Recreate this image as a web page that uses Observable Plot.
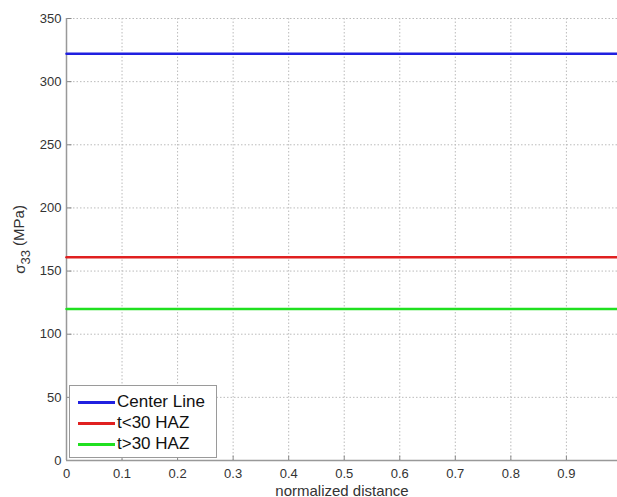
<!DOCTYPE html>
<html>
<head>
<meta charset="utf-8">
<script src="https://cdn.jsdelivr.net/npm/d3@7"></script>
<script src="https://cdn.jsdelivr.net/npm/@observablehq/plot@0.6"></script>
<style>
  html, body { margin: 0; padding: 0; background: #fff; }
  #wrap { position: relative; width: 617px; height: 497px; overflow: hidden; }
  #legend { position: absolute; left: 69px; top: 385px; width: 148px; height: 73px;
    border: 1px solid #9a9a9a; background: #fff; box-sizing: border-box;
    font-family: "Liberation Sans", Arial, sans-serif; font-size: 17px; color: #111; }
  .row { position: absolute; left: 0; height: 20px; display: flex; align-items: center; }
  .sw { width: 37px; height: 0; border-top: 3px solid; margin-left: 8px; margin-right: 2px; }
</style>
</head>
<body>
<div id="wrap"><div id="legend"></div></div>
<script>
const series = ["Center Line", "t<30 HAZ", "t>30 HAZ"];
const colors = ["#2020e0", "#e02020", "#20e020"];
const values = [322, 161, 120];
const xExtent = [0, 0.992];
const xTicks = [0, 0.1, 0.2, 0.3, 0.4, 0.5, 0.6, 0.7, 0.8, 0.9];
const yTicks = [0, 50, 100, 150, 200, 250, 300, 350];

const lines = series.flatMap((s, i) => xExtent.map(x => ({series: s, x, y: values[i]})));

const chart = Plot.plot({
  width: 617,
  height: 497,
  marginLeft: 66,
  marginRight: 0,
  marginTop: 18,
  marginBottom: 37,
  style: {fontFamily: "'Liberation Sans', Arial, sans-serif", fontSize: "13px", color: "#333", background: "#fff"},
  x: {domain: xExtent},
  y: {domain: [0, 350]},
  marks: [
    Plot.ruleX(xTicks.slice(1), {stroke: "#bbb", strokeDasharray: "1.5,2", strokeWidth: 1, strokeOpacity: 1}),
    Plot.ruleY(yTicks.slice(1), {stroke: "#bbb", strokeDasharray: "1.5,2", strokeWidth: 1, strokeOpacity: 1}),
    Plot.ruleX(xTicks, {y1: 0, y2: 3.5, stroke: "#888"}),
    Plot.ruleY(yTicks, {x1: 0, x2: 0.01, stroke: "#888"}),
    Plot.ruleX([0], {stroke: "#999", strokeWidth: 1.5}),
    Plot.ruleY([0], {stroke: "#999", strokeWidth: 1.5}),
    Plot.axisX({ticks: xTicks, tickSize: 0, tickPadding: 8, tickFormat: d => d === 0 ? "0" : d3.format(".1f")(d),
      label: "normalized distance", labelAnchor: "center", labelArrow: "none", labelOffset: 35, fontSize: 13}),
    Plot.axisY({ticks: yTicks, tickSize: 0, tickPadding: 5, tickFormat: d => String(d),
      label: "σ33 (MPa)", labelAnchor: "center", labelArrow: "none", labelOffset: 52, fontSize: 13}),
    Plot.line(lines, {x: "x", y: "y", z: "series", stroke: d => colors[series.indexOf(d.series)], strokeWidth: 2.5})
  ]
});

// axis label sizes and subscript in y label
d3.select(chart).selectAll("text").each(function() {
  const t = d3.select(this);
  if (t.text() === "normalized distance") {
    t.attr("font-size", "15px");
  }
  if (t.text() === "σ33 (MPa)") {
    t.text("");
    t.attr("font-size", "15px");
    t.append("tspan").text("σ");
    t.append("tspan").attr("dy", "0.35em").attr("font-size", "13px").text("33");
    t.append("tspan").attr("dy", "-0.35em").text(" (MPa)");
  }
});

document.getElementById("wrap").prepend(chart);
chart.style.position = "absolute";
chart.style.left = "0";
chart.style.top = "0";

const legend = document.getElementById("legend");
series.forEach((s, i) => {
  const row = document.createElement("div");
  row.className = "row";
  row.style.top = (6 + i * 21) + "px";
  const sw = document.createElement("div");
  sw.className = "sw";
  sw.style.borderTopColor = colors[i];
  const lab = document.createElement("span");
  lab.textContent = s;
  row.appendChild(sw);
  row.appendChild(lab);
  legend.appendChild(row);
});
</script>
</body>
</html>
